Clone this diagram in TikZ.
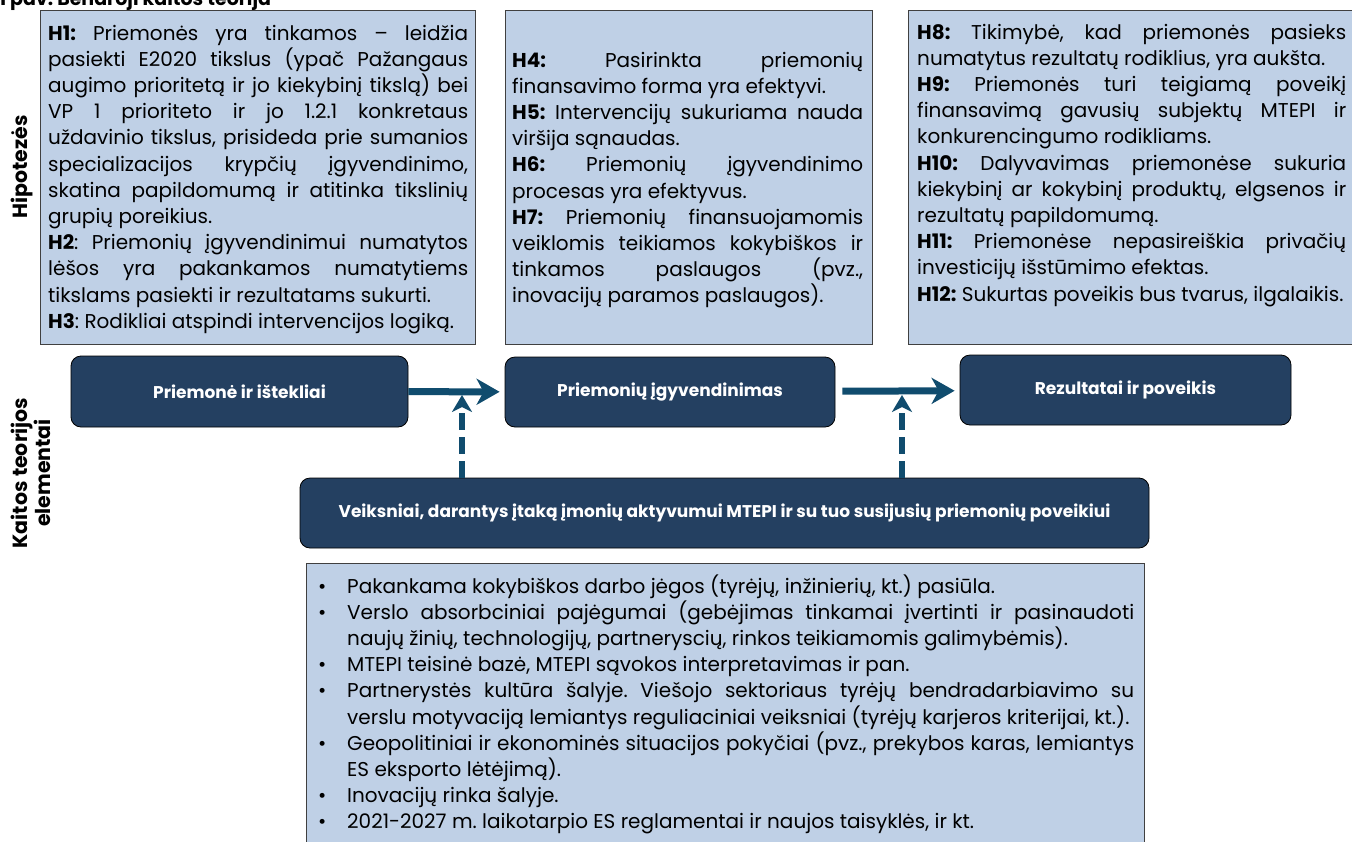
\documentclass[tikz,border=0pt]{standalone}
\usepackage{fontspec}
\usepackage{graphicx}
\setmainfont{Poppins}
\usetikzlibrary{arrows.meta}
\frenchspacing

\definecolor{hypfill}{RGB}{191,208,230}
\definecolor{hypline}{RGB}{64,64,64}
\definecolor{stagefill}{RGB}{36,64,97}
\definecolor{flowblue}{RGB}{16,76,110}

\newcommand\bodyfont{\fontsize{20pt}{26.2pt}\selectfont}
\newcommand\stagefont{\bfseries\fontsize{17pt}{19pt}\selectfont}
\newcommand\sidefont{\bfseries\fontsize{20.5pt}{20.5pt}\selectfont}

% a block of hand-broken lines with a fixed line pitch
\newcommand\textblock[2]{\vtop{\hsize=#1\parindent=0pt\baselineskip=26.2pt\lineskiplimit=-50pt\lineskip=0pt #2}}
% justified line; squeezed to the measure if it is too long
\newcommand\jline[1]{\setbox0=\hbox{#1}%
  \ifdim\wd0>\hsize\hbox to\hsize{\resizebox{\hsize}{!}{\box0}}\else\hbox to\hsize{#1}\fi}
% last line of a paragraph; squeezed only if it is too long
\newcommand\lline[1]{\setbox0=\hbox{#1}%
  \ifdim\wd0>\hsize\hbox to\hsize{\resizebox{\hsize}{!}{\box0}}\else\box0\fi}
\newcommand\blt{\hbox to 29pt{\textbullet\hss}}

\begin{document}
\begin{tikzpicture}[x=1pt, y=-1pt,
  hypbox/.style={draw=hypline, line width=1.2pt, fill=hypfill, inner sep=0pt, anchor=north west},
  stage/.style={draw=black, line width=0.8pt, fill=stagefill, rounded corners=10pt,
    text=white, inner sep=0pt, font=\stagefont},
  flow/.style={draw=flowblue, line width=7pt, -{Stealth[length=23pt, width=26pt, inset=7pt]}},
  flowdash/.style={draw=flowblue, line width=6pt, dash pattern=on 17pt off 7pt,
    -{Stealth[length=17pt, width=20pt, inset=5pt]}},
  sidelabel/.style={rotate=90, font=\sidefont, align=center, inner sep=0pt},
  bodytext/.style={anchor=base west, inner sep=0pt, font=\bodyfont}]

\useasboundingbox[fill=white] (0,0) rectangle (1352,841);

% caption, mostly above the page
\node[anchor=base west, inner sep=0pt, font=\bfseries\fontsize{19pt}{20pt}\selectfont] (title) at (10,5)
  {\llap{1 }pav. Bendroji kaitos teorija};

% side labels
\node[sidelabel] (hyplabel) at (22,167) {Hipotezės};
\node[sidelabel] (toclabel) at (31,473) {Kaitos teorijos\\elementai};

% hypothesis boxes
\node[hypbox, minimum width=435pt, minimum height=334pt] (h1box) at (40,10) {};
\node[hypbox, minimum width=367pt, minimum height=334pt] (h4box) at (505,10) {};
\node[hypbox, minimum width=460pt, minimum height=334pt] (h8box) at (908,10) {};

\node[bodytext] (h1text) at (48,40) {\textblock{420pt}{%
  \jline{\textbf{H1:} Priemonės yra tinkamos – leidžia}
  \jline{pasiekti E2020 tikslus (ypač Pažangaus}
  \jline{augimo prioritetą ir jo kiekybinį tikslą) bei}
  \jline{VP 1 prioriteto ir jo 1.2.1 konkretaus}
  \jline{uždavinio tikslus, prisideda prie sumanios}
  \jline{specializacijos krypčių įgyvendinimo,}
  \jline{skatina papildomumą ir atitinka tikslinių}
  \lline{grupių poreikius.}
  \jline{\textbf{H2}: Priemonių įgyvendinimui numatytos}
  \jline{lėšos yra pakankamos numatytiems}
  \lline{tikslams pasiekti ir rezultatams sukurti.}
  \lline{\textbf{H3}: Rodikliai atspindi intervencijos logiką.}}};

\node[bodytext] (h4text) at (512,67) {\textblock{351pt}{%
  \jline{\textbf{H4:} Pasirinkta priemonių}
  \lline{finansavimo forma yra efektyvi.}
  \jline{\textbf{H5:} Intervencijų sukuriama nauda}
  \lline{viršija sąnaudas.}
  \jline{\textbf{H6:} Priemonių įgyvendinimo}
  \lline{procesas yra efektyvus.}
  \jline{\textbf{H7:} Priemonių finansuojamomis}
  \jline{veiklomis teikiamos kokybiškos ir}
  \jline{tinkamos paslaugos (pvz.,}
  \lline{inovacijų paramos paslaugos).}}};

\node[bodytext] (h8text) at (917,39) {\textblock{429pt}{%
  \jline{\textbf{H8:} Tikimybė, kad priemonės pasieks}
  \lline{numatytus rezultatų rodiklius, yra aukšta.}
  \jline{\textbf{H9:} Priemonės turi teigiamą poveikį}
  \jline{finansavimą gavusių subjektų MTEPI ir}
  \lline{konkurencingumo rodikliams.}
  \jline{\textbf{H10:} Dalyvavimas priemonėse sukuria}
  \jline{kiekybinį ar kokybinį produktų, elgsenos ir}
  \lline{rezultatų papildomumą.}
  \jline{\textbf{H11:} Priemonėse nepasireiškia privačių}
  \lline{investicijų išstūmimo efektas.}
  \lline{\textbf{H12:} Sukurtas poveikis bus tvarus, ilgalaikis.}}};

% theory-of-change stages
\node[stage, minimum width=337pt, minimum height=71pt] (inputs) at (239.5,391.5) {Priemonė ir ištekliai};
\node[stage, minimum width=330pt, minimum height=70pt] (impl) at (670,392) {Priemonių įgyvendinimas};
\node[stage, minimum width=331pt, minimum height=70pt] (results) at (1125.5,390) {Rezultatai ir poveikis};
\node[stage, minimum width=849pt, minimum height=70pt] (factors) at (724.5,513)
  {Veiksniai, darantys įtaką įmonių aktyvumui MTEPI ir su tuo susijusių priemonių poveikiui};

\draw[flow, shorten >=5pt] (inputs) -- (impl);
\draw[flow, shorten <=7pt, shorten >=5pt] (impl) -- (results);

\coordinate (hit1) at (462,395);
\coordinate (hit2) at (902,395);
\draw[flowdash] (factors.north -| hit1) -- (hit1);
\draw[flowdash] (factors.north -| hit2) -- (hit2);

% list of external factors
\node[hypbox, minimum width=838pt, minimum height=300pt] (factbox) at (306,563) {};
\node[bodytext] (facttext) at (318,593) {\textblock{816pt}{%
  \lline{\blt Pakankama kokybiškos darbo jėgos (tyrėjų, inžinierių, kt.) pasiūla.}
  \jline{\blt Verslo absorbciniai pajėgumai (gebėjimas tinkamai įvertinti ir pasinaudoti}
  \lline{\hskip29pt naujų žinių, technologijų, partneryscių, rinkos teikiamomis galimybėmis).}
  \lline{\blt MTEPI teisinė bazė, MTEPI sąvokos interpretavimas ir pan.}
  \jline{\blt Partnerystės kultūra šalyje. Viešojo sektoriaus tyrėjų bendradarbiavimo su}
  \lline{\hskip29pt verslu motyvaciją lemiantys reguliaciniai veiksniai (tyrėjų karjeros kriterijai, kt.).}
  \jline{\blt Geopolitiniai ir ekonominės situacijos pokyčiai (pvz., prekybos karas, lemiantys}
  \lline{\hskip29pt ES eksporto lėtėjimą).}
  \lline{\blt Inovacijų rinka šalyje.}
  \lline{\blt 2021-2027 m. laikotarpio ES reglamentai ir naujos taisyklės, ir kt.}}};

\end{tikzpicture}
\end{document}
